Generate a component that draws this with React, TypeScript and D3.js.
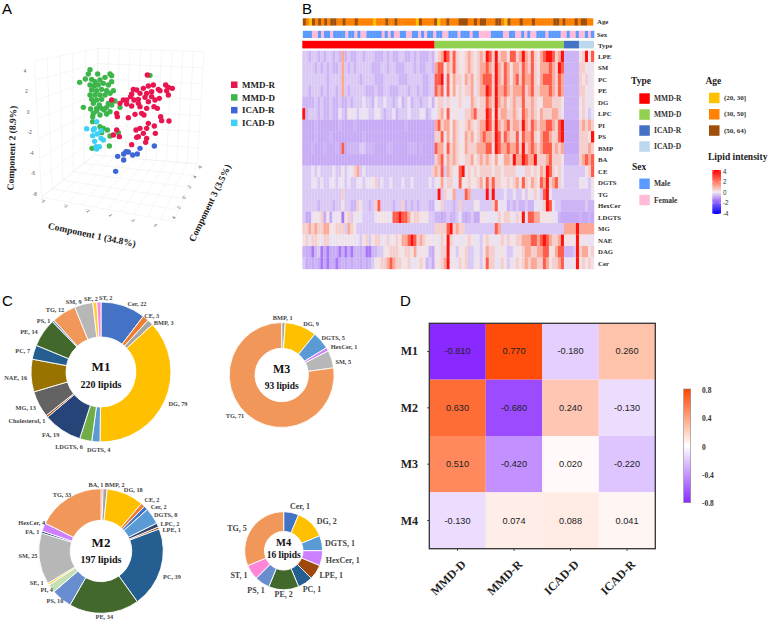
import React from "react"
import * as d3 from "d3"

const serif = "'Liberation Serif', serif"
const sans = "'Liberation Sans', sans-serif"

// panel A, projected positions
const mmdDPts: [number, number][] = [[270,209],[265,222],[293,222],[330,222],[335,227],[256,237],[239,247],[275,238],[285,245],[300,240],[315,232],[325,255],[335,245],[270,255],[283,258],[295,255],[310,250],[275,270],[290,272],[305,268],[320,272],[340,272],[270,285],[285,285],[300,285],[315,285],[330,280],[275,298],[290,300],[305,298],[345,303],[280,310],[298,315],[325,310],[250,322],[272,327],[290,325],[305,325],[320,322],[335,315],[280,340],[300,345],[320,342],[330,335],[278,365],[300,380],[310,385],[322,390],[305,398],[330,408],[355,398],[360,322],[328,438],[276,445],[450,226],[278,350],[290,333],[312,330]]
const mmdRPts: [number, number][] = [[442,225],[400,268],[410,270],[430,265],[445,258],[460,255],[475,268],[497,255],[517,265],[505,262],[395,282],[420,280],[440,280],[455,275],[480,272],[500,272],[505,285],[478,295],[392,290],[415,298],[435,292],[455,290],[465,300],[335,300],[370,300],[360,310],[380,312],[395,318],[420,320],[440,325],[462,320],[472,325],[350,340],[352,350],[385,353],[405,343],[425,340],[432,345],[482,350],[485,362],[507,363],[445,370],[463,378],[440,385],[420,385],[408,390],[430,400],[466,400],[415,410],[410,412],[440,415],[437,427],[395,434],[350,390],[340,405],[358,410],[402,300],[445,305],[415,310],[380,300]]
const icadRPts: [number, number][] = [[353,469],[371,462],[378,455],[385,456],[398,465],[412,462],[420,445],[463,438],[371,480],[347,514]]
const icadDPts: [number, number][] = [[290,365],[260,386],[283,386],[303,392],[278,407],[292,402],[303,415],[310,420],[284,424],[288,440],[298,440],[290,447],[280,390]]
const pcaGroups = ["MMD-R", "MMD-D", "ICAD-R", "ICAD-D"]
const pcaColors = ["#e8154f", "#3cb54a", "#3f66d6", "#3fd0f5"]
const comp1Ticks = ["-5", "-3", "-1", "1", "3", "5"]
const comp2Ticks = ["4", "2", "0", "-2", "-4", "-6", "-8"]
const comp3Ticks = ["4", "2", "0", "-2", "-4", "-6"]

// panel B
const lipidRows = ["LPE","SM","PC","PE","DG","LPC","PI","PS","BMP","BA","CE","DGTS","TG","HexCer","LDGTS","MG","NAE","DAG","Cer"]
const heatLevels = [-1.5, -0.85, -0.72, -0.45, -0.12, 0.15, 0.45, 1.1, 2.4, 3.7]
const ageStrip = "boybobobobbooboooboooooyoooboobooooooyboooobyoobooobbboobobbooobboyboooboooboooooobbobooobobboo"
const sexStrip = "mmmffmfmmfmmmmfmmfmffmmmmmfmfmffmmffmmfmfmmfmmffmmmfmmmfmmffffmmmmffmmffmfmffmmmfmmmmffmffmffmfm"
const typeCounts = [44, 43, 5, 5]
const typeColors = ["#ff0000", "#92d050", "#4472c4", "#bdd7ee"]
const heatRowsR = [
  "33233232332327232233233322232322332232322232",
  "33332323232237323233333222332332223332322332",
  "33333333233337333332333322233333222333332233",
  "33233323233237323333322232233222333233232233",
  "22223232232232232333433243343323423423323342",
  "92333232232243254434443344323342333433344234",
  "11112111111121111211111111111111112111111111",
  "11112111121111111111211111111111111111111111",
  "11121112111218122223322211112211111222121111",
  "11111111111111111111111111111111111111111111",
  "33343433334335344673433333333333333333333336",
  "33344343344344343344344563433433343343333343",
  "33333333333336333333333333333333333333333333",
  "33333233332335332264332368333323362323233322",
  "31145561514450563544333345554488988756655533",
  "66767667755666376533333333333333333333333333",
  "56466546644454545443563566446456577898676554",
  "21102301011101010221200223355666556657455421",
  "31212101011012121221212355667876655644565231",
]
const heatRowsD = [
  "5679868655676567698696775886797686578998679",
  "7885768655676567787697687577687686577787698",
  "8894857665767567888697687578687786578887687",
  "8784857565667467798697787677786786677787687",
  "5664654565447656687697675676686676557776665",
  "4675845544667866698596776676587676576667764",
  "7867757655676567798697678677697687677887689",
  "6684757645767567877698687668587786578876689",
  "8775867655766677788598778778696787678886767",
  "6784767655667567676575577697798779666786665",
  "7683765589465656666566566664446656576986564",
  "4574664485565567586866556567586576587967864",
  "3936547333873333393933343343353546538943333",
  "4463332363333543333684442323223224446984332",
  "2212322342123115544446566546594887755554421",
  "6666896766333333333387333333333333333333333",
  "5465964544565443565445646556677788789876679",
  "5466945355633443576645543345567766778855788",
  "5567945465633453586644653456567677668756678",
]
const heatRowsIR = ["22222","22222","22222","22222","22222","22222","11111","11111","11111","22222","33333","33333","33333","22222","11111","77779","55559","22239","44459"]
const heatRowsID = ["56958","66545","65645","66545","56445","56434","67676","66659","66676","67878","33568","54435","33334","22322","21121","77777","54544","67756","56565"]
const ageLabels = ["(20, 30]", "(30, 50]", "(50, 64)"]
const ageColors = ["#ffc000", "#fe8100", "#a04f0a"]
const sexLabels = ["Male", "Female"]
const sexColors = ["#5b9bff", "#ffbbd8"]
const intensityTicks = [4, 2, 0, -2, -4]

// panel C
const m1Names = ["Cer","CE","BMP","DG","DGTS","LDGTS","FA","Cholesterol","MG","NAE","PC","PE","PS","TG","SM","SE","ST"]
const m1Values = [22,3,3,79,4,6,19,1,13,16,7,14,1,12,9,2,2]
const m1LabelAt = [[137,303.3],[151.7,315],[163.7,322.3],[178,403],[98.7,449],[69,446.7],[50.7,434],[27,420.3],[25.7,407.3],[15.7,377.7],[22.7,350.7],[29,331.7],[43.7,320],[55,309.3],[73.7,301],[91,298.3],[105.7,297]]
const m2Names = ["BA","BMP","DG","CE","Cer","DGTS","LPC","LPE","PC","PE","PS","PI","SE","SM","FA","HexCer","TG"]
const m2Values = [1,2,18,2,2,8,2,1,39,34,10,4,1,25,1,4,33]
const m2LabelAt = [[96,484.3],[114.7,484.3],[133.3,489],[152,499.7],[158.7,506.3],[165.7,514],[170,523.7],[171.7,529.7],[172,576.7],[104.3,616],[55,600],[46.7,589.7],[36.7,582],[28,555.7],[32.3,531],[31.7,522.3],[62,494.3]]
const m3Names = ["BMP","DG","DGTS","HexCer","SM","TG"]
const m3Values = [1,9,5,1,5,71]
const m3LabelAt = [[282.7,317.7],[311,323.3],[333.3,337.3],[344,346.7],[343.3,361.3],[235,415.7]]
const m4Names = ["Cer","DG","DGTS","HexCer","LPE","PC","PE","PS","ST","TG"]
const m4Values = [1,2,1,1,1,1,2,1,1,5]
const m4LabelAt = [[300,506.7],[326.7,521.3],[340,543.3],[342.7,560],[331.3,575.7],[312,589],[283.7,594.7],[256,590],[239,575.7],[237,528.7]]
const lipidColors: Record<string, string> = {
  Cer: "#4472c4", CE: "#ed7d31", BMP: "#a5a5a5", DG: "#ffc000", DGTS: "#5b9bd5", LDGTS: "#70ad47",
  FA: "#264478", Cholesterol: "#9e480e", MG: "#636363", NAE: "#997300", PC: "#255e91", PE: "#43682b",
  PS: "#698ed0", TG: "#f1975a", SM: "#b7b7b7", SE: "#ffcd33", ST: "#ff85d8", BA: "#ff5a4a",
  LPC: "#33486e", LPE: "#9e480e", PI: "#c5e0b4", HexCer: "#cc80ff",
}

// panel D
const modules = ["M1", "M2", "M3", "M4"]
const groups = ["MMD-D", "MMD-R", "ICAD-D", "ICAD-R"]
const corrM1 = [-0.81, 0.77, -0.18, 0.26]
const corrM2 = [0.63, -0.68, 0.24, -0.13]
const corrM3 = [0.51, -0.42, 0.02, -0.22]
const corrM4 = [-0.13, 0.074, 0.088, 0.041]
const corrTicks = [0.8, 0.4, 0, -0.4, -0.8]

const heatColor = d3.scaleLinear<string>()
  .domain([-4, -1.5, 0, 1.5, 4])
  .range(["#0000ff", "#a878f8", "#f0ebf2", "#ff8f75", "#ff0000"])
const corrColor = d3.scaleLinear<string>()
  .domain([-0.8, 0, 0.8])
  .range(["#8a2bff", "#ffffff", "#ff4500"])

function lerp(a: number[], b: number[], t: number) {
  return [a[0] + (b[0] - a[0]) * t, a[1] + (b[1] - a[1]) * t]
}

// grid of one wall of the 3d box
function wallLines(p00: number[], p10: number[], p01: number[], p11: number[], nu: number, nv: number) {
  const out: number[][][] = []
  d3.range(nu + 1).forEach(i => {
    const t = i / nu
    out.push([lerp(p00, p10, t), lerp(p01, p11, t)])
  })
  d3.range(nv + 1).forEach(i => {
    const t = i / nv
    out.push([lerp(p00, p01, t), lerp(p10, p11, t)])
  })
  return out
}

function PanelA() {
  const x = d3.scaleLinear().domain([0, 870]).range([0, 290])
  const y = d3.scaleLinear().domain([0, 840]).range([0, 280])
  const tl = [103, 183], tb = [295, 145], tr = [612, 155]
  const bl = [125, 592], bb = [283, 465], br = [592, 492], bf = [522, 665]
  const lines = [
    ...wallLines(tl, tb, bl, bb, 5, 7),
    ...wallLines(tb, tr, bb, br, 10, 7),
    ...wallLines(bb, br, bl, bf, 10, 5),
  ]
  const ptsByGroup = [mmdDPts, mmdRPts, icadRPts, icadDPts]
  const colorByIdx = [pcaColors[1], pcaColors[0], pcaColors[2], pcaColors[3]]
  const t1 = comp1Ticks.map((_, i) => lerp([125, 604], [462, 678], i / 5))
  const t2 = comp2Ticks.map((_, i) => lerp([75, 213], [104, 583], i / 6))
  const t3 = comp3Ticks.map((_, i) => lerp([525, 655], [603, 505], i / 5))
  return (
    <g>
      <text x={2} y={14} fontFamily={sans} fontSize={15}>A</text>
      {lines.map((l, i) => (
        <line key={i} x1={x(l[0][0])} y1={y(l[0][1])} x2={x(l[1][0])} y2={y(l[1][1])} stroke="#ececec" strokeWidth={0.5} />
      ))}
      {comp1Ticks.map((d, i) => (
        <text key={i} transform={`translate(${x(t1[i][0])},${y(t1[i][1])}) rotate(60)`} fontFamily={sans} fontSize={4.5} fill="#555" textAnchor="middle">{d}</text>
      ))}
      {comp2Ticks.map((d, i) => (
        <text key={i} x={x(t2[i][0])} y={y(t2[i][1])} fontFamily={sans} fontSize={4.5} fill="#555" textAnchor="middle" dominantBaseline="central">{d}</text>
      ))}
      {comp3Ticks.map((d, i) => (
        <text key={i} transform={`translate(${x(t3[i][0])},${y(t3[i][1])}) rotate(-60)`} fontFamily={sans} fontSize={4.5} fill="#555" textAnchor="middle">{d}</text>
      ))}
      {ptsByGroup.map((pts, g) => pts.map((p, i) => (
        <circle key={`${g}-${i}`} cx={x(p[0])} cy={y(p[1])} r={2.7} fill={colorByIdx[g]} />
      )))}
      <text transform="translate(12,148) rotate(-88)" fontFamily={serif} fontWeight="bold" fontSize={9.5} fill="#222" textAnchor="middle" dominantBaseline="central">Component 2 (8.9%)</text>
      <text transform="translate(92,235) rotate(12)" fontFamily={serif} fontWeight="bold" fontSize={9.5} fill="#222" textAnchor="middle" dominantBaseline="central">Component 1 (34.8%)</text>
      <text transform="translate(210,203) rotate(-64)" fontFamily={serif} fontWeight="bold" fontSize={9.5} fill="#222" textAnchor="middle" dominantBaseline="central">Component 3 (3.5%)</text>
      {pcaGroups.map((g, i) => (
        <g key={g}>
          <rect x={231} y={81.5 + i * 12.7} width={6.5} height={6.5} fill={pcaColors[i]} />
          <text x={242} y={85 + i * 12.7} fontFamily={serif} fontWeight="bold" fontSize={9} fill="#222" dominantBaseline="central">{g}</text>
        </g>
      ))}
    </g>
  )
}

function PanelB() {
  const left = 302.3, right = 594
  const total = d3.sum(typeCounts)
  const xType = d3.scaleLinear().domain([0, total]).range([left, right])
  const y = d3.scaleBand().domain(lipidRows).range([50.7, 269])
  const starts = d3.cumsum([0, ...typeCounts])
  const stripAge = d3.scaleBand().domain(d3.range(ageStrip.length).map(String)).range([left + 0.5, right - 1])
  const stripSex = d3.scaleBand().domain(d3.range(sexStrip.length).map(String)).range([left + 0.5, right])
  const ageColorOf: Record<string, string> = { y: ageColors[0], o: ageColors[1], b: ageColors[2] }
  const sexColorOf: Record<string, string> = { m: sexColors[0], f: sexColors[1] }
  const blocks = [heatRowsR, heatRowsD, heatRowsIR, heatRowsID]
  const label = { fontFamily: serif, fontWeight: "bold", fontSize: 6.8, fill: "#333", dominantBaseline: "central" } as const
  const intensity = d3.scaleLinear().domain([4, -4]).range([171, 213.5])
  const stops = d3.range(-4, 4.01, 0.5)
  return (
    <g>
      <text x={302} y={14} fontFamily={sans} fontSize={15}>B</text>
      <defs>
        <linearGradient id="intensityGrad" x1="0" y1="1" x2="0" y2="0">
          {stops.map(s => <stop key={s} offset={(s + 4) / 8} stopColor={heatColor(s)} />)}
        </linearGradient>
        <linearGradient id="corrGrad" x1="0" y1="1" x2="0" y2="0">
          {d3.range(-0.8, 0.81, 0.2).map(s => <stop key={s} offset={(s + 0.8) / 1.6} stopColor={corrColor(s)} />)}
        </linearGradient>
      </defs>
      {ageStrip.split("").map((c, i) => (
        <rect key={i} x={stripAge(String(i))} y={18.3} width={stripAge.bandwidth() + 0.3} height={7.3} fill={ageColorOf[c]} />
      ))}
      {sexStrip.split("").map((c, i) => (
        <rect key={i} x={stripSex(String(i))} y={30.8} width={stripSex.bandwidth() + 0.3} height={7.2} fill={sexColorOf[c]} />
      ))}
      {typeCounts.map((n, i) => (
        <rect key={i} x={xType(starts[i])} y={40.8} width={xType(starts[i] + n) - xType(starts[i])} height={7.6} fill={typeColors[i]} />
      ))}
      {blocks.map((rows, b) => rows.map((row, r) => {
        const xCol = d3.scaleBand().domain(d3.range(row.length).map(String)).range([xType(starts[b]), xType(starts[b + 1])])
        return row.split("").map((c, i) => (
          <rect key={`${b}-${r}-${i}`} x={xCol(String(i))} y={y(lipidRows[r])} width={xCol.bandwidth() + 0.2} height={y.bandwidth() + 0.2} fill={heatColor(heatLevels[+c])} />
        ))
      }))}
      <text x={597} y={21.5} {...label}>Age</text>
      <text x={597} y={34} {...label}>Sex</text>
      <text x={598} y={45.7} {...label}>Type</text>
      {lipidRows.map(d => (
        <text key={d} x={598} y={y(d)! + y.bandwidth() / 2} {...label}>{d}</text>
      ))}

      <text x={631} y={81} fontFamily={serif} fontWeight="bold" fontSize={9.5} fill="#222" dominantBaseline="central">Type</text>
      {pcaGroups.map((g, i) => (
        <g key={g}>
          <rect x={639.3} y={93.3 + i * 16} width={10.5} height={10.5} fill={typeColors[i]} />
          <text x={654} y={98.5 + i * 16} fontFamily={serif} fontWeight="bold" fontSize={7.5} fill="#333" dominantBaseline="central">{g}</text>
        </g>
      ))}
      <text x={632} y={167} fontFamily={serif} fontWeight="bold" fontSize={9.5} fill="#222" dominantBaseline="central">Sex</text>
      {sexLabels.map((g, i) => (
        <g key={g}>
          <rect x={639.3} y={178.5 + i * 16.3} width={10.5} height={10.5} fill={sexColors[i]} />
          <text x={654} y={183.7 + i * 16.3} fontFamily={serif} fontWeight="bold" fontSize={7.5} fill="#333" dominantBaseline="central">{g}</text>
        </g>
      ))}
      <text x={705.5} y={81} fontFamily={serif} fontWeight="bold" fontSize={9.5} fill="#222" dominantBaseline="central">Age</text>
      {ageLabels.map((g, i) => (
        <g key={g}>
          <rect x={709} y={92.7 + i * 16.3} width={10.5} height={10.5} fill={ageColors[i]} />
          <text x={724} y={98 + i * 16.3} fontFamily={serif} fontWeight="bold" fontSize={7} fill="#333" dominantBaseline="central">{g}</text>
        </g>
      ))}
      <text x={708} y={157} fontFamily={serif} fontWeight="bold" fontSize={9.5} fill="#222" dominantBaseline="central">Lipid intensity</text>
      <rect x={712.3} y={170} width={8.7} height={44} fill="url(#intensityGrad)" />
      {intensityTicks.map(t => (
        <g key={t}>
          <line x1={712.3} x2={714} y1={intensity(t)} y2={intensity(t)} stroke="#fff" strokeWidth={0.5} />
          <line x1={719.3} x2={721} y1={intensity(t)} y2={intensity(t)} stroke="#fff" strokeWidth={0.5} />
          <text x={723} y={intensity(t)} fontFamily={sans} fontSize={6.3} fill="#333" dominantBaseline="central">{t}</text>
        </g>
      ))}
    </g>
  )
}

type DonutProps = {
  names: string[], values: number[], labelAt: number[][],
  cx: number, cy: number, outer: number, inner: number,
  title: string, subtitle: string, titleY: number, subY: number,
  labelSize: number, titleSize: number, subSize: number
}

function Donut(props: DonutProps) {
  const { names, values, labelAt, cx, cy, outer, inner } = props
  const pie = d3.pie<number>().sort(null)
  const arc = d3.arc<d3.PieArcDatum<number>>().innerRadius(inner).outerRadius(outer)
  const arcs = pie(values)
  return (
    <g>
      <g transform={`translate(${cx},${cy})`}>
        {arcs.map((a, i) => (
          <path key={i} d={arc(a) || ""} fill={lipidColors[names[i]]} stroke="#fff" strokeWidth={0.9} />
        ))}
      </g>
      {names.map((n, i) => (
        <text key={n} x={labelAt[i][0]} y={labelAt[i][1]} fontFamily={serif} fontWeight="bold" fontSize={props.labelSize} fill="#444" textAnchor="middle" dominantBaseline="central">{`${n}, ${values[i]}`}</text>
      ))}
      <text x={cx} y={props.titleY} fontFamily={serif} fontWeight="bold" fontSize={props.titleSize} fill="#111" textAnchor="middle" dominantBaseline="central">{props.title}</text>
      <text x={cx} y={props.subY} fontFamily={serif} fontWeight="bold" fontSize={props.subSize} fill="#111" textAnchor="middle" dominantBaseline="central">{props.subtitle}</text>
    </g>
  )
}

function PanelC() {
  return (
    <g>
      <text x={2} y={306} fontFamily={sans} fontSize={15}>C</text>
      <Donut names={m1Names} values={m1Values} labelAt={m1LabelAt} cx={101} cy={372} outer={70} inner={35} title="M1" subtitle="220 lipids" titleY={366.7} subY={384} labelSize={6.3} titleSize={13} subSize={10} />
      <Donut names={m3Names} values={m3Values} labelAt={m3LabelAt} cx={281.7} cy={375} outer={52.5} inner={26.7} title="M3" subtitle="93 lipids" titleY={369.3} subY={385.7} labelSize={6.3} titleSize={12} subSize={9.5} />
      <Donut names={m2Names} values={m2Values} labelAt={m2LabelAt} cx={101} cy={551} outer={62.3} inner={30.7} title="M2" subtitle="197 lipids" titleY={542.7} subY={559.3} labelSize={6.3} titleSize={13} subSize={10} />
      <Donut names={m4Names} values={m4Values} labelAt={m4LabelAt} cx={283.7} cy={550.7} outer={39} inner={19.3} title="M4" subtitle="16 lipids" titleY={542.7} subY={554.7} labelSize={8} titleSize={10.5} subSize={9.5} />
    </g>
  )
}

function PanelD() {
  const x = d3.scaleBand().domain(groups).range([429.3, 655.3])
  const y = d3.scaleBand().domain(modules).range([323.3, 548.7])
  const rows = [corrM1, corrM2, corrM3, corrM4]
  const bar = d3.scaleLinear().domain([0.8, -0.8]).range([390.7, 503.3])
  return (
    <g>
      <text x={400} y={306} fontFamily={sans} fontSize={15}>D</text>
      {rows.map((row, r) => row.map((v, c) => (
        <g key={`${r}-${c}`}>
          <rect x={x(groups[c])} y={y(modules[r])} width={x.bandwidth()} height={y.bandwidth()} fill={corrColor(v)} />
          <text x={x(groups[c])! + x.bandwidth() / 2} y={y(modules[r])! + y.bandwidth() / 2} fontFamily={sans} fontSize={9.2} fill="#222" textAnchor="middle" dominantBaseline="central">{v.toFixed(3)}</text>
        </g>
      )))}
      <rect x={429.3} y={323.3} width={226} height={225.4} fill="none" stroke="#333" strokeWidth={1.3} />
      {modules.map(m => (
        <g key={m}>
          <line x1={427} x2={429.3} y1={y(m)! + y.bandwidth() / 2} y2={y(m)! + y.bandwidth() / 2} stroke="#333" strokeWidth={0.8} />
          <text x={418} y={y(m)! + y.bandwidth() / 2} fontFamily={serif} fontWeight="bold" fontSize={12} fill="#222" textAnchor="end" dominantBaseline="central">{m}</text>
        </g>
      ))}
      {groups.map(g => {
        const cx = x(g)! + x.bandwidth() / 2
        return (
          <g key={g}>
            <line x1={cx} x2={cx} y1={548.7} y2={551} stroke="#333" strokeWidth={0.8} />
            <text transform={`translate(${cx + 9},${565}) rotate(-45)`} fontFamily={serif} fontWeight="bold" fontSize={12} fill="#222" textAnchor="end">{g}</text>
          </g>
        )
      })}
      <rect x={683.7} y={389} width={7} height={113.7} fill="url(#corrGrad)" stroke="#888" strokeWidth={0.6} />
      {corrTicks.map(t => (
        <text key={t} x={702} y={bar(t)} fontFamily={serif} fontWeight="bold" fontSize={7.5} fill="#333" dominantBaseline="central">{t}</text>
      ))}
    </g>
  )
}

export default function App() {
  return (
    <svg width={775} height={622} style={{ position: "absolute", left: 0, top: 0, background: "#fff" }}>
      <PanelA />
      <PanelB />
      <PanelC />
      <PanelD />
    </svg>
  )
}
